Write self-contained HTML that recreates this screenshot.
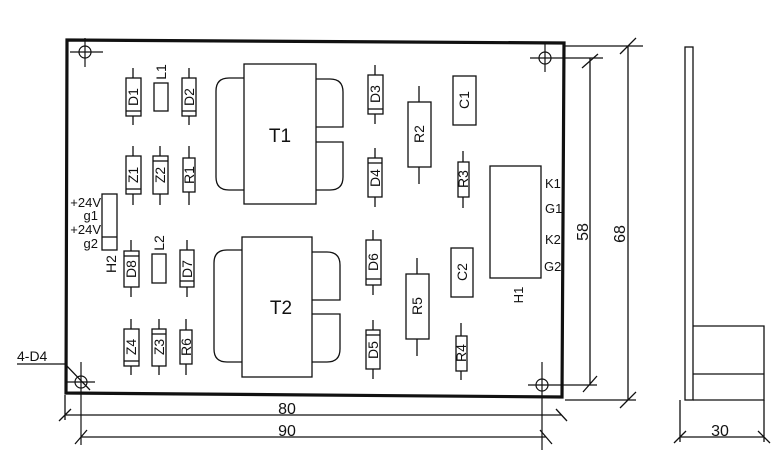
<!DOCTYPE html>
<html><head><meta charset="utf-8"><style>
html,body{margin:0;padding:0;background:#fff;}
svg{display:block;}
text{font-family:"Liberation Sans",sans-serif;fill:#111;}
</style></head><body>
<svg width="774" height="472" viewBox="0 0 774 472" xmlns="http://www.w3.org/2000/svg">
<g fill="none" stroke="#111" stroke-width="1.3">
<path d="M67,40 L564,43 L562,397 L66,393 Z" stroke-width="3.2"/>
<g stroke-width="1.2">
<circle cx="85" cy="52" r="6"/><path d="M70,52H103M85,38V67"/>
<circle cx="545" cy="58" r="6"/><path d="M530,58H603M545,44V72"/>
<circle cx="81" cy="382" r="6"/><path d="M66,382H95M81,362V445"/>
<circle cx="542" cy="385" r="6"/><path d="M528,385H597M542,362V450"/>
</g>
<path d="M17,364H65L90,390"/>
<path d="M133,68V125"/><rect x="126" y="78" width="15" height="38" fill="#fff"/><path d="M126,111H141"/>
<rect x="154" y="83" width="14" height="28"/>
<path d="M189,68V125"/><rect x="182" y="78" width="14" height="38" fill="#fff"/><path d="M182,111H196"/>
<path d="M133,146V205"/><rect x="126" y="156" width="15" height="38" fill="#fff"/><path d="M126,189H141"/>
<path d="M160,146V205"/><rect x="153" y="156" width="15" height="38" fill="#fff"/><path d="M153,161H168"/>
<path d="M189,146V205"/><rect x="183" y="158" width="12" height="34" fill="#fff"/>
<path d="M131,240V297"/><rect x="124" y="251" width="15" height="36" fill="#fff"/><path d="M124,256H139"/>
<rect x="152" y="254" width="14" height="29"/>
<path d="M187,240V297"/><rect x="180" y="250" width="14" height="37" fill="#fff"/><path d="M180,281H194"/>
<path d="M131,319V375"/><rect x="124" y="329" width="15" height="37" fill="#fff"/><path d="M124,361H139"/>
<path d="M159,319V375"/><rect x="152" y="329" width="14" height="37" fill="#fff"/><path d="M152,334H166"/>
<path d="M186,319V375"/><rect x="180" y="330" width="12" height="34" fill="#fff"/>
<rect x="102" y="194" width="15" height="56"/><path d="M102,237H117"/>
<rect x="244" y="64" width="72" height="140"/>
<path d="M244,78H229Q216,78 216,91V177Q216,190 229,190H244"/>
<path d="M316,79H330Q343,79 343,92V127H316M316,142H343V177Q343,190 330,190H316"/>
<rect x="242" y="237" width="70" height="140"/>
<path d="M242,250H227Q214,250 214,263V349Q214,362 227,362H242"/>
<path d="M312,252H327Q340,252 340,265V300H312M312,314H340V349Q340,362 327,362H312"/>
<path d="M375,65V124"/><rect x="368" y="75" width="15" height="39" fill="#fff"/><path d="M368,109H383"/>
<path d="M375,148V207"/><rect x="368" y="158" width="14" height="39" fill="#fff"/><path d="M368,163H382"/>
<path d="M373,230V295"/><rect x="366" y="240" width="15" height="45" fill="#fff"/><path d="M366,279H381"/>
<path d="M373,320V379"/><rect x="366" y="330" width="14" height="39" fill="#fff"/><path d="M366,335H380"/>
<path d="M419,86V184"/><rect x="408" y="102" width="23" height="65" fill="#fff"/>
<path d="M417,258V356"/><rect x="406" y="274" width="23" height="65" fill="#fff"/>
<rect x="453" y="76" width="23" height="49"/>
<rect x="451" y="248" width="22" height="49"/>
<path d="M463,151V208"/><rect x="458" y="162" width="11" height="35" fill="#fff"/>
<path d="M461,323V380"/><rect x="456" y="336" width="11" height="35" fill="#fff"/>
<rect x="490" y="166" width="51" height="112"/>
<path d="M590,58V385M582,68L598,54M583,392L597,376"/>
<path d="M565,46H643M565,400H636M628,46V400M620,54L636,38M620,408L636,392"/>
<rect x="685" y="47" width="8" height="353"/>
<path d="M693,326H764V400H693M693,374H764"/>
<path d="M680,400V442M764,400V442M680,437H764M674,443L686,431M758,431L770,443"/>
<path d="M65,395V420M65,415H562M59,421L71,409M556,409L567,421"/>
<path d="M81,437H546M75,444L87,430M540,430L552,444"/>
</g>
<g font-size="14">
<text transform="translate(138,97) rotate(-90)" text-anchor="middle">D1</text>
<text transform="translate(166,72) rotate(-90)" text-anchor="middle">L1</text>
<text transform="translate(194,97) rotate(-90)" text-anchor="middle">D2</text>
<text transform="translate(138,175) rotate(-90)" text-anchor="middle">Z1</text>
<text transform="translate(165,175) rotate(-90)" text-anchor="middle">Z2</text>
<text transform="translate(194,175) rotate(-90)" text-anchor="middle">R1</text>
<text transform="translate(136,269) rotate(-90)" text-anchor="middle">D8</text>
<text transform="translate(164,243) rotate(-90)" text-anchor="middle">L2</text>
<text transform="translate(192,269) rotate(-90)" text-anchor="middle">D7</text>
<text transform="translate(136,347) rotate(-90)" text-anchor="middle">Z4</text>
<text transform="translate(164,347) rotate(-90)" text-anchor="middle">Z3</text>
<text transform="translate(191,347) rotate(-90)" text-anchor="middle">R6</text>
<text transform="translate(116,264) rotate(-90)" text-anchor="middle">H2</text>
<text transform="translate(380,94) rotate(-90)" text-anchor="middle">D3</text>
<text transform="translate(380,178) rotate(-90)" text-anchor="middle">D4</text>
<text transform="translate(378,262) rotate(-90)" text-anchor="middle">D6</text>
<text transform="translate(378,350) rotate(-90)" text-anchor="middle">D5</text>
<text transform="translate(424,134) rotate(-90)" text-anchor="middle">R2</text>
<text transform="translate(422,306) rotate(-90)" text-anchor="middle">R5</text>
<text transform="translate(469,100) rotate(-90)" text-anchor="middle">C1</text>
<text transform="translate(467,272) rotate(-90)" text-anchor="middle">C2</text>
<text transform="translate(468,179) rotate(-90)" text-anchor="middle">R3</text>
<text transform="translate(466,353) rotate(-90)" text-anchor="middle">R4</text>
<text transform="translate(523,295) rotate(-90)" text-anchor="middle" font-size="13">H1</text>
<text x="545" y="188" font-size="13">K1</text>
<text x="545" y="213" font-size="13">G1</text>
<text x="545" y="244" font-size="13">K2</text>
<text x="544" y="271" font-size="13">G2</text>
<text x="101" y="207" text-anchor="end" font-size="13">+24V</text>
<text x="98" y="220" text-anchor="end" font-size="13">g1</text>
<text x="101" y="234" text-anchor="end" font-size="13">+24V</text>
<text x="98" y="248" text-anchor="end" font-size="13">g2</text>
<text x="17" y="361" font-size="14">4-D4</text>
<text x="280" y="142" text-anchor="middle" font-size="19">T1</text>
<text x="281" y="314" text-anchor="middle" font-size="19">T2</text>
<text x="287" y="414" text-anchor="middle" font-size="16">80</text>
<text x="287" y="436" text-anchor="middle" font-size="16">90</text>
<text x="720" y="436" text-anchor="middle" font-size="16">30</text>
<text transform="translate(588,232) rotate(-90)" text-anchor="middle" font-size="16">58</text>
<text transform="translate(625,234) rotate(-90)" text-anchor="middle" font-size="16">68</text>
</g>
</svg>
</body></html>
